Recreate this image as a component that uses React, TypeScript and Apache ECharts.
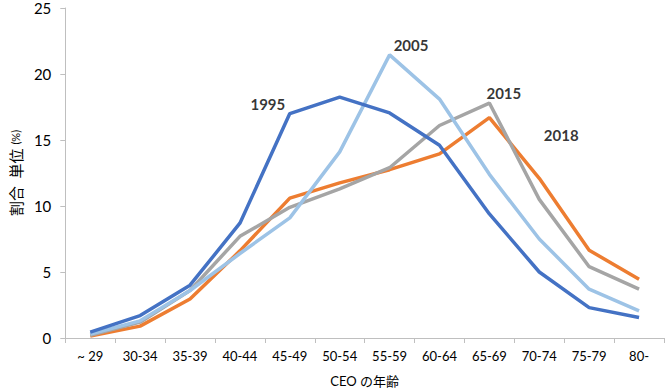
import React, { useEffect, useRef } from "react";
import * as echarts from "echarts";

const categories = ["~ 29", "30-34", "35-39", "40-44", "45-49", "50-54", "55-59", "60-64", "65-69", "70-74", "75-79", "80-"];
const s1995 = [0.45, 1.7, 4.0, 8.7, 17.0, 18.25, 17.05, 14.6, 9.4, 5.0, 2.3, 1.55];
const s2005 = [0.3, 1.3, 3.6, 6.4, 9.1, 14.1, 21.45, 18.1, 12.4, 7.5, 3.7, 2.05];
const s2015 = [0.2, 1.2, 3.6, 7.7, 9.9, 11.3, 12.9, 16.1, 17.8, 10.5, 5.4, 3.7];
const s2018 = [0.15, 0.9, 2.95, 6.6, 10.6, 11.75, 12.75, 13.95, 16.7, 12.1, 6.65, 4.45];
const yTicks = [0, 5, 10, 15, 20, 25];
const seriesNames = ["1995", "2005", "2015", "2018"];
const colors = ["#4472C4", "#9DC3E6", "#A5A5A5", "#ED7D31"];
// label anchors in band units (0..12 across the x axis) and data values
const labelX = [4.06, 6.93, 8.79, 9.94];
const labelY = [17.75, 22.2, 18.58, 15.4];

const FONT = "Lato, 'Noto Sans CJK JP', sans-serif";

export default function App() {
  const ref = useRef<HTMLDivElement>(null);
  useEffect(() => {
    if (!ref.current) return;
    const chart = echarts.init(ref.current, null, { renderer: "svg" });
    const data = [s1995, s2005, s2015, s2018];
    chart.setOption({
      animation: false,
      textStyle: { fontFamily: FONT },
      grid: { left: 58, right: 7, top: 8, bottom: 53, containLabel: false },
      xAxis: [
        {
          type: "category",
          data: categories,
          boundaryGap: true,
          axisLine: { lineStyle: { color: "#BFBFBF", width: 1 } },
          axisTick: { show: true, length: 5, lineStyle: { color: "#BFBFBF" } },
          axisLabel: { color: "#000", fontSize: 13, margin: 11, fontFamily: FONT },
          name: "CEO の年齢",
          nameLocation: "middle",
          nameGap: 36,
          nameTextStyle: { color: "#000", fontSize: 13, fontFamily: FONT },
        },
        { type: "value", min: 0, max: 12, show: false },
      ],
      yAxis: {
        type: "value",
        min: yTicks[0],
        max: yTicks[yTicks.length - 1],
        interval: 5,
        axisLine: { show: true, lineStyle: { color: "#BFBFBF", width: 1 } },
        axisTick: { show: true, length: 5, lineStyle: { color: "#BFBFBF" } },
        splitLine: { show: false },
        axisLabel: { color: "#000", fontSize: 15, margin: 14, fontFamily: FONT },
        name: "{a|割合  単位 }{b|(%)}",
        nameLocation: "middle",
        nameRotate: 90,
        nameGap: 42,
        nameTextStyle: {
          rich: {
            a: { fontSize: 15, color: "#000", fontFamily: FONT },
            b: { fontSize: 11, color: "#000", fontFamily: FONT },
          },
        },
      },
      series: [
        ...seriesNames.map((n, i) => ({
          name: n,
          type: "line",
          data: data[i],
          symbol: "none",
          lineStyle: { color: colors[i], width: 3.5 },
          z: 10 - i,
        })),
        {
          type: "scatter",
          xAxisIndex: 1,
          data: labelX.map((x, i) => ({ value: [x, labelY[i]], name: seriesNames[i] })),
          symbolSize: 0,
          silent: true,
          z: 20,
          label: {
            show: true,
            position: "inside",
            formatter: (p: any) => p.name,
            color: "#000",
            fontSize: 15,
            fontWeight: "bold",
            fontFamily: FONT,
          },
        },
      ],
    });
    return () => chart.dispose();
  }, []);
  return <div ref={ref} style={{ position: "absolute", left: 0, top: 0, width: 671, height: 392 }} />;
}
